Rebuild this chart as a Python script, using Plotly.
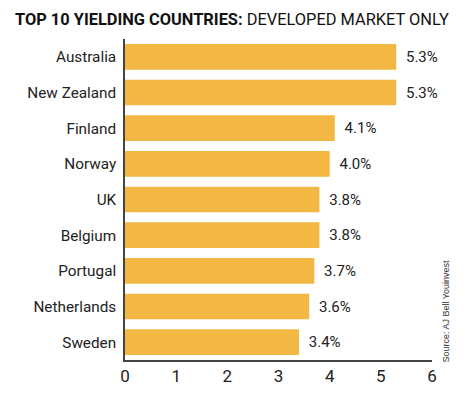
import plotly.graph_objects as go

countries = ["Australia", "New Zealand", "Finland", "Norway", "UK", "Belgium",
             "Portugal", "Netherlands", "Sweden"]
yields = [5.3, 5.3, 4.1, 4.0, 3.8, 3.8, 3.7, 3.6, 3.4]
value_labels = ["5.3%", "5.3%", "4.1%", "4.0%", "3.8%", "3.8%", "3.7%", "3.6%", "3.4%"]
x_ticks = [0, 1, 2, 3, 4, 5, 6]

FONT = "Roboto"
W, H = 467, 390          # page body has an 8px margin
L, R, T, B = 117, 43, 31, 33

fig = go.Figure(go.Bar(
    x=yields, y=countries, orientation="h",
    marker=dict(color="#F2B843", line=dict(width=0)),
    text=value_labels, texttemplate="\u00a0\u2009%{text}",
    textposition="outside", cliponaxis=False,
    textfont=dict(family=FONT, size=15, color="#222222"),
))

pw, ph = W - L - R, H - T - B
fig.update_layout(
    width=W, height=H,
    margin=dict(l=L, r=R, t=T, b=B),
    paper_bgcolor="white", plot_bgcolor="white",
    bargap=0.28, showlegend=False,
    font=dict(family=FONT, size=15, color="#222222"),
    xaxis=dict(range=[0, 6], tickvals=x_ticks, showgrid=False, zeroline=False,
               showline=True, linecolor="#444444", linewidth=1.5, ticks="",
               tickfont=dict(family=FONT, size=17, color="#222222"), fixedrange=True),
    yaxis=dict(autorange="reversed", showgrid=False, zeroline=False, showline=True,
               linecolor="#444444", linewidth=1.5, ticks="", ticklabelstandoff=4,
               tickfont=dict(family=FONT, size=15.3, color="#222222")),
    annotations=[
        dict(text="<b>TOP 10 YIELDING COUNTRIES:</b> DEVELOPED MARKET ONLY",
             x=(5 - L) / pw, y=1 + (T - 11) / ph, xref="paper", yref="paper",
             showarrow=False, font=dict(family=FONT, size=16.4, color="#111111"),
             xanchor="left", yanchor="middle"),
        dict(text="Source: AJ Bell Youinvest", textangle=-90,
             x=1.0, y=0.0, xref="paper", yref="paper", xshift=13, yshift=-5,
             xanchor="center", yanchor="bottom", showarrow=False,
             font=dict(family="Liberation Sans", size=9, color="#333333")),
    ],
)
fig.write_html("out.html")
